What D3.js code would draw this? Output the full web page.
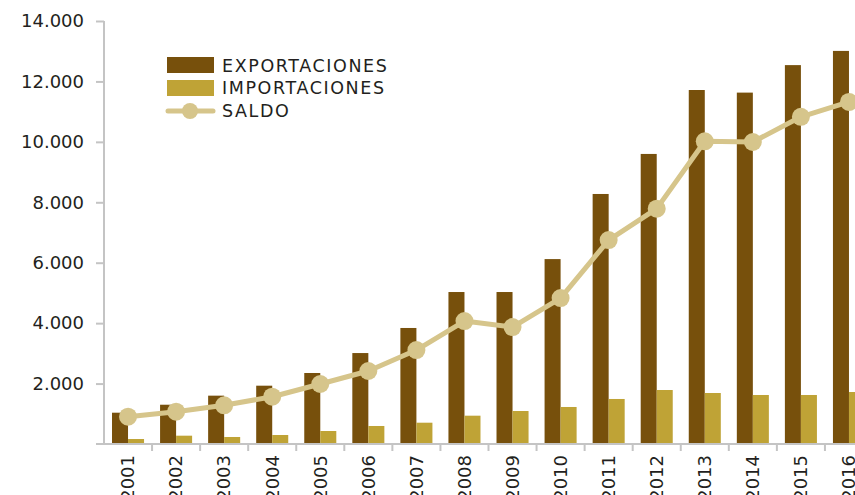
<!DOCTYPE html>
<html>
<head>
<meta charset="utf-8">
<script src="https://cdn.jsdelivr.net/npm/d3@7/dist/d3.min.js"></script>
<style>
  html, body { margin: 0; padding: 0; background: #fff; overflow: hidden; }
  svg { display: block; font-family: "DejaVu Sans", sans-serif; }
</style>
</head>
<body>
<svg id="chart" width="855" height="495"></svg>
<script>
// Years on the category axis
const years = ["2001","2002","2003","2004","2005","2006","2007","2008",
               "2009","2010","2011","2012","2013","2014","2015","2016"];
// Series values
const exportaciones = [1036, 1300, 1600, 1930, 2350, 3010, 3840, 5030,
                       5030, 6120, 8275, 9600, 11716, 11630, 12540, 13010];
const importaciones = [165, 275, 232, 298, 430, 596, 705, 937,
                       1092, 1225, 1490, 1787, 1688, 1622, 1622, 1721];
const saldo = [904, 1070, 1280, 1565, 1986, 2416, 3110, 4070,
               3870, 4830, 6750, 7790, 10018, 9995, 10830, 11320];
// Value-axis ticks
const yTicks = [2000, 4000, 6000, 8000, 10000, 12000, 14000];
const seriesNames = ["EXPORTACIONES", "IMPORTACIONES", "SALDO"];

const colors = { exp: "#77500c", imp: "#bfa336", sal: "#d6c58b", axis: "#c4c4c4", text: "#231f20" };

const svg = d3.select("#chart");
const plotLeft = 104, plotRight = 873, plotTop = 21, plotBottom = 444;

const x = d3.scaleBand().domain(years).range([plotLeft, plotRight]).padding(0);
const y = d3.scaleLinear().domain([0, 14000]).range([plotBottom, plotTop]);
const inner = d3.scaleBand().domain(["exp", "imp"]).range([0, x.bandwidth()]).paddingOuter(0.5).paddingInner(0);

const data = years.map((yr, i) => ({ yr, exp: exportaciones[i], imp: importaciones[i], sal: saldo[i] }));

// Bars
const g = svg.append("g");
data.forEach(d => {
  ["exp", "imp"].forEach(k => {
    g.append("rect")
      .attr("x", x(d.yr) + inner(k))
      .attr("y", y(d[k]))
      .attr("width", inner.bandwidth())
      .attr("height", y(0) - y(d[k]))
      .attr("fill", colors[k]);
  });
});

// Y axis
const yAxis = d3.axisLeft(y).tickValues(yTicks).tickSize(8).tickPadding(12)
  .tickFormat(d => d3.format(",")(d).replace(/,/g, "."));
const ya = svg.append("g").attr("transform", `translate(${plotLeft},0)`).call(yAxis);
ya.select(".domain").attr("d", `M0,${plotTop}V${plotBottom}`).attr("stroke", colors.axis).attr("stroke-width", 2);
ya.selectAll(".tick line").attr("stroke", colors.axis).attr("stroke-width", 2);
ya.selectAll(".tick text").attr("fill", colors.text).style("font-size", "18px")
  .style("font-family", "'DejaVu Sans', sans-serif");

// X axis baseline and boundary ticks
svg.append("line").attr("x1", 96).attr("x2", plotRight).attr("y1", plotBottom).attr("y2", plotBottom)
  .attr("stroke", colors.axis).attr("stroke-width", 2);
years.slice(1).forEach(yr => {
  svg.append("line").attr("x1", x(yr)).attr("x2", x(yr)).attr("y1", plotBottom).attr("y2", plotBottom + 7)
    .attr("stroke", colors.axis).attr("stroke-width", 2);
});
years.forEach(yr => {
  svg.append("text")
    .attr("transform", `translate(${x(yr) + x.bandwidth() / 2},455) rotate(-90)`)
    .attr("text-anchor", "end")
    .attr("dy", "0.35em")
    .attr("fill", colors.text)
    .style("font-size", "18px")
    .text(yr);
});

// Saldo line
const line = d3.line().x(d => x(d.yr) + x.bandwidth() / 2).y(d => y(d.sal));
svg.append("path").datum(data).attr("d", line)
  .attr("fill", "none").attr("stroke", colors.sal).attr("stroke-width", 5).attr("stroke-linejoin", "round");
svg.selectAll("circle.pt").data(data).enter().append("circle")
  .attr("cx", d => x(d.yr) + x.bandwidth() / 2)
  .attr("cy", d => y(d.sal))
  .attr("r", 9)
  .attr("fill", colors.sal);

// Legend
const lg = svg.append("g");
lg.append("rect").attr("x", 167).attr("y", 57).attr("width", 47).attr("height", 16).attr("fill", colors.exp);
lg.append("rect").attr("x", 167).attr("y", 80).attr("width", 47).attr("height", 16).attr("fill", colors.imp);
lg.append("line").attr("x1", 168).attr("x2", 213).attr("y1", 111).attr("y2", 111)
  .attr("stroke", colors.sal).attr("stroke-width", 5).attr("stroke-linecap", "round");
lg.append("circle").attr("cx", 190).attr("cy", 111).attr("r", 8).attr("fill", colors.sal);
[71.5, 94, 117].forEach((by, i) => {
  lg.append("text").attr("x", 222).attr("y", by)
    .attr("fill", colors.text).style("font-size", "17.5px").style("letter-spacing", "1.6px")
    .text(seriesNames[i]);
});
</script>
</body>
</html>
